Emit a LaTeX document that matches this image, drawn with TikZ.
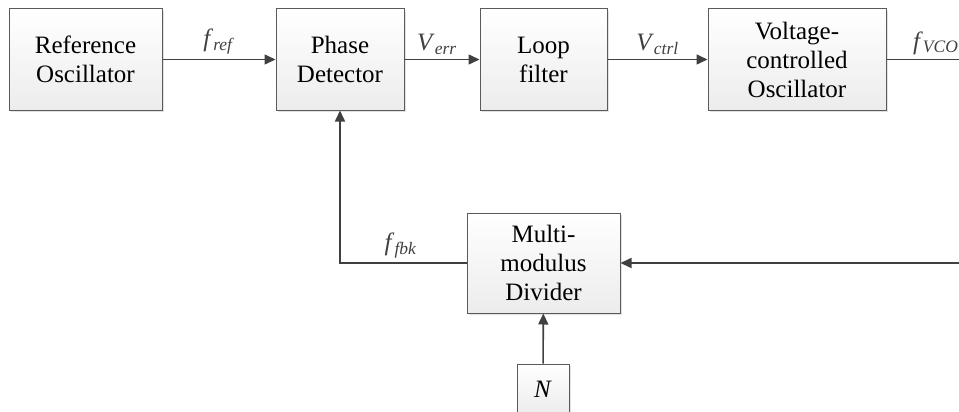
\documentclass[tikz,border=0pt]{standalone}
\usepackage{fontspec}
\setmainfont{Liberation Serif}
\usepackage{xcolor}
\definecolor{pllLine}{HTML}{404040}
\definecolor{pllBorder}{HTML}{5A5A5A}
\definecolor{pllFill}{HTML}{ECECEC}
\usepackage{tikz}
\usetikzlibrary{arrows.meta,shadows,positioning}
\newcommand{\sig}[2]{\textit{#1}\textsubscript{\textit{#2}}}

\begin{document}
\begin{tikzpicture}[x=1pt, y=-1pt,
  every node/.style={font=\fontsize{25}{29}\selectfont, align=center},
  block/.style={draw=pllBorder, line width=1pt, top color=white, bottom color=pllFill,
    drop shadow={shadow xshift=2pt, shadow yshift=-2pt, fill=gray!45}, inner sep=0pt},
  wire/.style={pllLine, line width=1.6pt},
  arrow/.style={wire, -{Triangle[length=11pt, width=10pt]}}]
  % Frame
  \clip (0,0) rectangle (959,412);
  % Blocks
  \node[block, minimum width=153pt, minimum height=101pt] (ref) at (85.5,59.5) {Reference\\Oscillator};
  \node[block, minimum width=128pt, minimum height=101pt] (pd) at (340,59.5) {Phase\\Detector};
  \node[block, minimum width=127pt, minimum height=101pt] (lf) at (543.5,59.5) {Loop\\filter};
  \node[block, minimum width=178pt, minimum height=101pt] (vco) at (797,59.5) {Voltage-\\controlled\\Oscillator};
  \node[block, minimum width=153pt, minimum height=100pt] (div) at (543.5,263) {Multi-\\modulus\\Divider};
  \node[block, minimum width=52pt, minimum height=50pt] (nval) at (543,389) {\textit{N}};
  % Ends outside the frame
  \coordinate (vcoout) at (980,59.5);
  \coordinate (fbin) at (980,263);
  % Forward path
  \draw[arrow] (ref) -- (pd) node[midway, above=1pt] {\sig{f}{ref}};
  \draw[arrow] (pd) -- (lf) node[midway, above=1pt, xshift=-5pt] {\sig{V}{err}};
  \draw[arrow] (lf) -- (vco) node[midway, above=1pt] {\sig{V}{ctrl}};
  \draw[wire] (vco) -- (vcoout) node[pos=0.24, above=1pt, anchor=south west] {\sig{f}{VCO}};
  % Feedback path
  \draw[arrow] (fbin) -- (div);
  \draw[arrow] (div.west) -| (pd.south) node[pos=0.26, above=1pt] {\sig{f}{fbk}};
  \draw[arrow] (nval) -- (div);
\end{tikzpicture}
\end{document}
